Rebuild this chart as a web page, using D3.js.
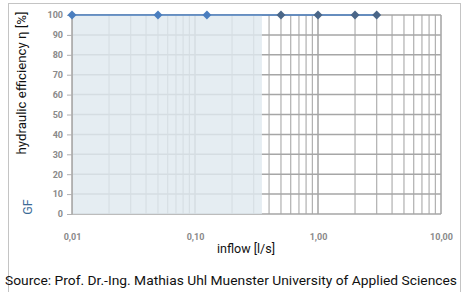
<!DOCTYPE html>
<html><head><meta charset="utf-8">
<script src="https://cdn.jsdelivr.net/npm/d3@7"></script>
<style>body{margin:0;background:#fff}svg{display:block}</style>
</head><body><svg id="c" width="463" height="292"></svg>
<script>
const inflow = [0.01, 0.05, 0.125, 0.5, 1, 2, 3];
const efficiency = [100, 100, 100, 100, 100, 100, 100];
const shadedUpTo = [0.35];
const yTicks = [0,10,20,30,40,50,60,70,80,90,100];
const xTicks = [0.01, 0.1, 1, 10];
const xTickLabels = ["0,01", "0,10", "1,00", "10,00"];

const svg = d3.select("#c");
const FONT = "'Liberation Sans Narrow','Roboto','Liberation Sans',sans-serif";
const x = d3.scaleLog().domain([0.01, 10]).range([72, 441]);
const y = d3.scaleLinear().domain([0, 100]).range([214, 15]);

// frame
svg.append("rect").attr("x",8.5).attr("y",3.5).attr("width",452).attr("height",300)
  .attr("fill","none").attr("stroke","#c4c4c4").attr("stroke-width",1);

// grid: vertical minor/major
const vlines = [];
for (let d = -2; d < 1; d++) for (let m = 1; m <= 9; m++) vlines.push(m*Math.pow(10,d));
vlines.push(10);
svg.append("g").selectAll("line").data(vlines).join("line")
  .attr("x1",d=>x(d)).attr("x2",d=>x(d)).attr("y1",y(100)).attr("y2",y(0))
  .attr("stroke",d=>xTicks.includes(+d.toPrecision(6)) ? "#8c8c8c" : "#b0b0b0").attr("stroke-width",1.2);
svg.append("g").selectAll("line").data(yTicks).join("line")
  .attr("x1",x(0.01)).attr("x2",x(10)).attr("y1",d=>y(d)).attr("y2",d=>y(d))
  .attr("stroke","#a6a6a6").attr("stroke-width",1.5);

// shaded zone
svg.append("rect").attr("x",x(0.01)).attr("y",y(100))
  .attr("width",x(shadedUpTo[0])-x(0.01)).attr("height",y(0)-y(100))
  .attr("fill","#dfe9ef").attr("opacity",0.82);

// y axis
const ya = svg.append("g").attr("transform",`translate(${x(0.01)},0)`)
  .call(d3.axisLeft(y).tickValues(yTicks).tickSize(5).tickPadding(4));
ya.select(".domain").attr("stroke","#b0b0b0");
ya.selectAll(".tick line").attr("stroke","#b0b0b0");
ya.selectAll("text").attr("font-family",FONT).attr("font-size",9).attr("font-weight","bold").attr("fill","#8a8a8a");

// x axis
const xa = svg.append("g").attr("transform",`translate(0,${y(0)})`)
  .call(d3.axisBottom(x).tickValues(xTicks).tickFormat((d,i)=>xTickLabels[i]).tickSize(0).tickPadding(20));
xa.select(".domain").remove();
xa.selectAll("text").attr("font-family",FONT).attr("font-size",9).attr("font-weight","bold").attr("fill","#8a8a8a");

// line + markers
svg.append("path").datum(inflow.map((d,i)=>[d,efficiency[i]]))
  .attr("d", d3.line().x(d=>x(d[0])).y(d=>y(d[1])))
  .attr("fill","none").attr("stroke","#4a7ebf").attr("stroke-width",1.5);
svg.append("g").selectAll("path").data(inflow.map((d,i)=>[d,efficiency[i]])).join("path")
  .attr("transform",d=>`translate(${x(d[0])},${y(d[1])}) rotate(45)`)
  .attr("d", d3.symbol(d3.symbolSquare, 40))
  .attr("fill",d=>d[0] <= shadedUpTo[0] ? "#4a7ebf" : "#4a6688");

// titles
svg.append("text").attr("transform","translate(26,83) rotate(-90)").attr("text-anchor","middle")
  .attr("font-family",FONT).attr("font-size",12.5).attr("fill","#111")
  .attr("textLength",143).attr("lengthAdjust","spacingAndGlyphs").text("hydraulic efficiency η [%]");
svg.append("text").attr("transform","translate(32,207) rotate(-90)").attr("text-anchor","middle")
  .attr("font-family",FONT).attr("font-size",12.5).attr("fill","#3b6a96").text("GF");
svg.append("text").attr("x",246).attr("y",253).attr("text-anchor","middle")
  .attr("font-family",FONT).attr("font-size",13).attr("fill","#111")
  .attr("textLength",58).attr("lengthAdjust","spacingAndGlyphs").text("inflow [l/s]");
svg.append("text").attr("x",5).attr("y",285).attr("textLength",452).attr("lengthAdjust","spacingAndGlyphs")
  .attr("font-family",FONT).attr("font-size",13.5).attr("fill","#111")
  .text("Source: Prof. Dr.-Ing. Mathias Uhl Muenster University of Applied Sciences");
</script></body></html>
